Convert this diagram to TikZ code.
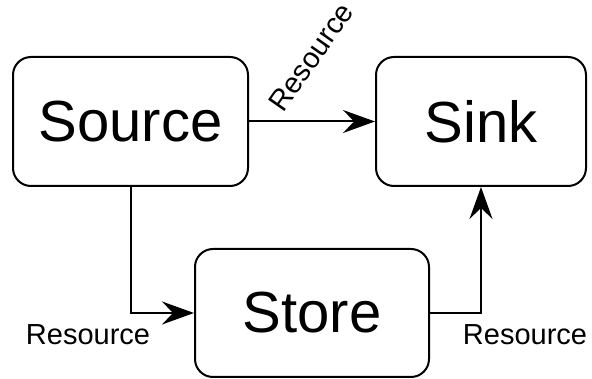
\documentclass[tikz,border=0pt]{standalone}
\usepackage{fontspec}
\setmainfont{Liberation Sans}
\usetikzlibrary{arrows.meta}
\begin{document}
\begin{tikzpicture}[x=1pt,y=-1pt,
  box/.style={draw,line width=2pt,rounded corners=18pt,inner sep=0pt,font=\fontsize{58}{60}\selectfont},
  flow/.style={draw,line width=2pt,-{Stealth[length=32pt,width=23pt,inset=11pt]}},
  lbl/.style={inner sep=0pt,font=\fontsize{29}{31}\selectfont}]
\useasboundingbox (0,0) rectangle (592,379);
\node[box,minimum width=235pt,minimum height=129pt] (source) at (130.5,121.5) {Source};
\node[box,minimum width=210pt,minimum height=129pt] (sink) at (481,121.5) {Sink};
\node[box,minimum width=234pt,minimum height=128pt] (store) at (312,313) {Store};
\draw[flow] (source.east) -- (sink.west);
\draw[flow] (source.south) |- (store.west);
\draw[flow] (store.east) -| (sink.south);
\node[lbl,rotate=55] (l1) at (311,57) {Resource};
\node[lbl] (l2) at (88,335) {Resource};
\node[lbl] (l3) at (525,335) {Resource};
\end{tikzpicture}
\end{document}
